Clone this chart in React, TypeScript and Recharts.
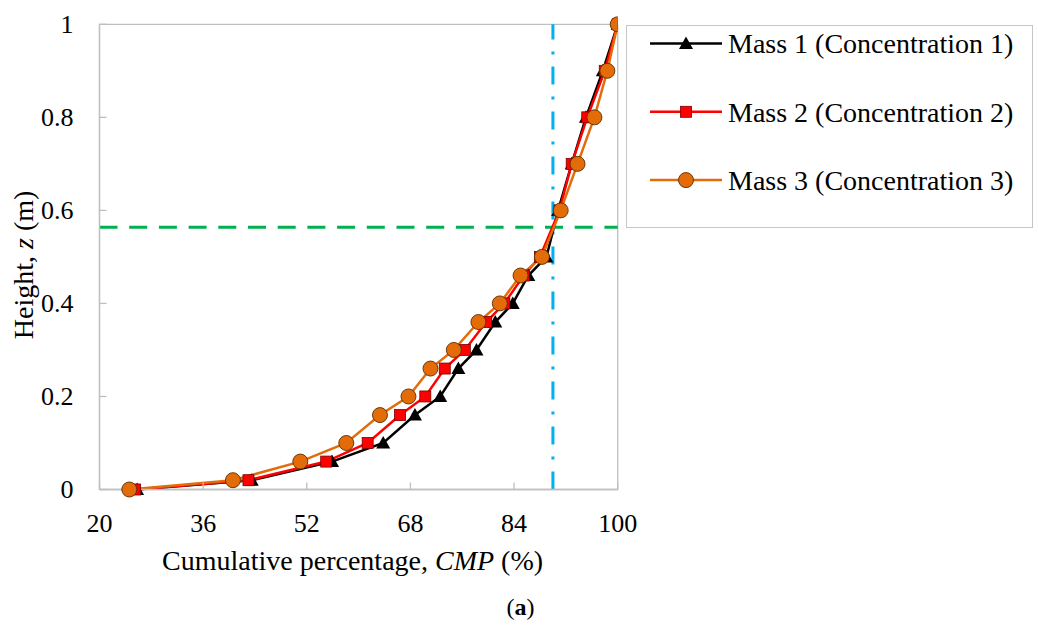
import {
  LineChart,
  Line,
  XAxis,
  YAxis,
  ReferenceLine,
  ReferenceArea,
  Legend,
} from 'recharts'

// height above the bed (m) and cumulative percentage for each mass
const heights = [0, 0.02, 0.06, 0.1, 0.16, 0.2, 0.26, 0.3, 0.36, 0.4, 0.46, 0.5, 0.6, 0.7, 0.8, 0.9, 1]
const mass1 = [25.8, 43.5, 55.9, 63.8, 68.7, 72.6, 75.4, 78.2, 81.1, 83.8, 86.2, 89.0, 90.8, 92.9, 95.1, 97.7, 100]
const mass2 = [25.5, 43.0, 55.0, 61.4, 66.4, 70.3, 73.3, 76.4, 79.7, 82.5, 85.5, 88.0, 91.0, 92.9, 95.3, 98.0, 100]
const mass3 = [24.6, 40.6, 51.0, 58.1, 63.3, 67.7, 71.1, 74.7, 78.5, 81.8, 85.0, 88.3, 91.2, 93.8, 96.4, 98.4, 100]

const xTicks = [20, 36, 52, 68, 84, 100]
const yTicks = [0, 0.2, 0.4, 0.6, 0.8, 1]

const cmpLimit = 90
const heightLimit = 0.564

const FONT = 'Liberation Serif, Tinos, Times New Roman, DejaVu Serif, serif'
const AXIS = '#bfbfbf'

type Marker = 'triangle' | 'square' | 'circle'

const series: { name: string; values: number[]; color: string; marker: Marker }[] = [
  { name: 'Mass 1 (Concentration 1)', values: mass1, color: '#000000', marker: 'triangle' },
  { name: 'Mass 2 (Concentration 2)', values: mass2, color: '#ff0000', marker: 'square' },
  { name: 'Mass 3 (Concentration 3)', values: mass3, color: '#e36c0a', marker: 'circle' },
]

function MarkerShape({ cx, cy, type }: { cx: number; cy: number; type: Marker }) {
  if (type === 'triangle') {
    return <polygon points={`${cx},${cy - 7} ${cx - 7},${cy + 5.5} ${cx + 7},${cy + 5.5}`} fill="#000" />
  }
  if (type === 'square') {
    return <rect x={cx - 5.5} y={cy - 5.5} width={11} height={11} fill="#ff0000" stroke="#7a0000" strokeWidth={0.8} />
  }
  return <circle cx={cx} cy={cy} r={7.5} fill="#e36c09" stroke="#5c2d00" strokeWidth={0.9} />
}

const XTick = ({ x, y, payload }: any) => (
  <g>
    <line x1={x} x2={x} y1={y} y2={y - 7} stroke={AXIS} strokeWidth={1.3} />
    <text x={x} y={y + 42} textAnchor="middle" style={{ fontFamily: FONT }} fontSize={26} fill="#000">
      {payload.value}
    </text>
  </g>
)

const YTick = ({ x, y, payload }: any) => (
  <g>
    <line x1={x} x2={x + 7} y1={y} y2={y} stroke={AXIS} strokeWidth={1.3} />
    <text x={x - 26} y={y + 8.5} textAnchor="end" style={{ fontFamily: FONT }} fontSize={26} fill="#000">
      {payload.value}
    </text>
  </g>
)

const XTitle = ({ viewBox }: any) => {
  const cx = viewBox.x + viewBox.width / 2
  return (
    <g style={{ fontFamily: FONT }} fill="#000">
      <text x={cx - 6} y={viewBox.y + 80.5} textAnchor="middle" fontSize={28}>
        Cumulative percentage, <tspan fontStyle="italic">CMP</tspan> (%)
      </text>
      <text x={cx + 162} y={viewBox.y + 125.5} textAnchor="middle" fontSize={24}>
        (<tspan fontWeight="bold">a</tspan>)
      </text>
    </g>
  )
}

const YTitle = ({ viewBox }: any) => {
  const cy = viewBox.y + viewBox.height / 2 + 8
  return (
    <text
      x={33}
      y={cy}
      transform={`rotate(-90, 33, ${cy})`}
      textAnchor="middle"
      style={{ fontFamily: FONT }}
      fontSize={28}
      fill="#000"
    >
      Height, <tspan fontStyle="italic">z</tspan> (m)
    </text>
  )
}

const LegendBox = () => (
  <div style={{ width: 407, height: 203, border: '1.3px solid #c6c6c6', boxSizing: 'border-box', background: '#fff' }}>
    <svg width={405} height={201}>
      {series.map((s, i) => {
        const y = 17.5 + i * 68.3
        return (
          <g key={s.name}>
            <line x1={23} x2={95} y1={y} y2={y} stroke={s.color} strokeWidth={2.5} />
            <MarkerShape cx={59} cy={y} type={s.marker} />
            <text x={101} y={y + 9.8} style={{ fontFamily: FONT }} fontSize={28} fill="#000">
              {s.name}
            </text>
          </g>
        )
      })}
    </svg>
  </div>
)

export default function App() {
  return (
    <div style={{ position: 'absolute', left: 0, top: 0, width: 1038, height: 628, background: '#fff' }}>
      <LineChart width={1038} height={628} margin={{ top: 24.3, right: 420.3, bottom: 0, left: 0 }}>
        <XAxis
          dataKey="cmp"
          type="number"
          domain={[20, 100]}
          ticks={xTicks}
          allowDataOverflow
          height={138.5}
          tickSize={0}
          tickMargin={0}
          tickLine={false}
          axisLine={{ stroke: AXIS, strokeWidth: 1.3 }}
          tick={<XTick />}
          label={{ content: <XTitle /> }}
        />
        <YAxis
          dataKey="z"
          type="number"
          domain={[0, 1]}
          ticks={yTicks}
          width={99.5}
          tickSize={0}
          tickMargin={0}
          tickLine={false}
          axisLine={{ stroke: AXIS, strokeWidth: 1.3 }}
          tick={<YTick />}
          label={{ content: <YTitle /> }}
        />
        <ReferenceArea x1={20} x2={100} y1={0} y2={1} fill="none" fillOpacity={0} stroke={AXIS} strokeWidth={1.3} />
        <ReferenceLine x={cmpLimit} stroke="#00b0f0" strokeWidth={3} strokeDasharray="18 12 3 12" />
        <ReferenceLine y={heightLimit} stroke="#00b050" strokeWidth={3} strokeDasharray="18 11.7" />
        {series.map((s) => (
          <Line
            key={s.name}
            name={s.name}
            data={heights.map((z, i) => ({ z, cmp: s.values[i] }))}
            dataKey="z"
            type="linear"
            stroke={s.color}
            strokeWidth={2.5}
            isAnimationActive={false}
            activeDot={false}
            dot={(p: any) => <MarkerShape key={`${s.marker}-${p.index}`} cx={p.cx} cy={p.cy} type={s.marker} />}
          />
        ))}
        <Legend
          layout="vertical"
          align="center"
          verticalAlign="middle"
          wrapperStyle={{ left: 626, top: 25, width: 407, height: 203 }}
          content={() => <LegendBox />}
        />
      </LineChart>
    </div>
  )
}
